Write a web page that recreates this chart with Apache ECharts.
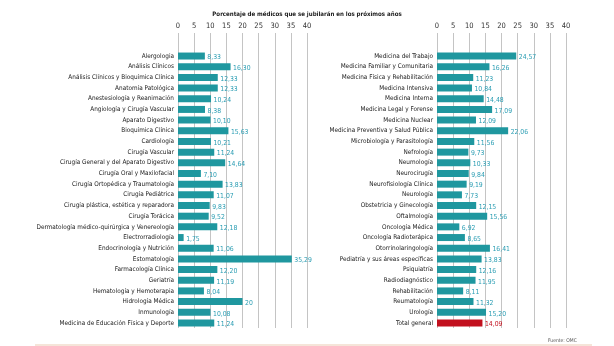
<!DOCTYPE html>
<html>
<head>
<meta charset="utf-8">
<script src="https://cdn.jsdelivr.net/npm/echarts@6/dist/echarts.min.js"></script>
<style>
html,body{margin:0;padding:0;background:#fff;}
#c{width:614px;height:346px;}
</style>
</head>
<body>
<div id="c"></div>
<script>
const titleText = 'Porcentaje de médicos que se jubilarán en los próximos años';
const sourceText = 'Fuente: OMC';
const leftCategories = [
  'Alergologia','Análisis Clínicos','Análisis Clínicos y Bioquímica Clínica','Anatomía Patológica',
  'Anestesiología y Reanimación','Angiología y Cirugía Vascular','Aparato Digestivo','Bioquímica Clínica',
  'Cardiología','Cirugía Vascular','Cirugía General y del Aparato Digestivo','Cirugía Oral y Maxilofacial',
  'Cirugía Ortopédica y Traumatología','Cirugía Pediátrica','Cirugía plástica, estética y reparadora',
  'Cirugía Torácica','Dermatología médico-quirúrgica y Venereología','Electrorradiología',
  'Endocrinología y Nutrición','Estomatología','Farmacología Clínica','Geriatría',
  'Hematología y Hemoterapia','Hidrología Médica','Inmunología','Medicina de Educación Física y Deporte'
];
const leftValues = [8.33,16.30,12.33,12.33,10.24,8.38,10.10,15.63,10.21,11.24,14.64,7.10,13.83,11.07,9.83,9.52,12.18,1.75,11.06,35.29,12.20,11.19,8.04,20,10.08,11.24];
const rightCategories = [
  'Medicina del Trabajo','Medicina Familiar y Comunitaria','Medicina Física y Rehabilitación',
  'Medicina Intensiva','Medicina Interna','Medicina Legal y Forense','Medicina Nuclear',
  'Medicina Preventiva y Salud Pública','Microbiología y Parasitología','Nefrología','Neumología',
  'Neurocirugía','Neurofisiología Clínica','Neurología','Obstetricia y Ginecología','Oftalmología',
  'Oncología Médica','Oncología Radioterápica','Otorrinolaringología','Pediatría y sus áreas específicas',
  'Psiquiatría','Radiodiagnóstico','Rehabilitación','Reumatología','Urología','Total general'
];
const rightValues = [24.57,16.26,11.23,10.84,14.48,17.09,12.09,22.06,11.56,9.73,10.33,9.84,9.19,7.73,12.15,15.56,6.92,8.65,16.41,13.83,12.16,11.95,8.11,11.32,15.20,14.09];
const highlightCategory = 'Total general';

const FONT = "'DejaVu Sans Condensed','Liberation Sans Narrow',sans-serif";
const TEAL = '#1f979f';
const TEAL_TXT = '#2a9db3';
const RED = '#c2101e';
const fmt = v => Number.isInteger(v) ? String(v) : v.toFixed(2).replace('.', ',');

const panels = [{left:178, cats:leftCategories, vals:leftValues},{left:437, cats:rightCategories, vals:rightValues}];
const grids=[], xAxes=[], yAxes=[], series=[];
panels.forEach((p,i)=>{
  const gi = grids.length;
  grids.push({left:p.left, width:129, top:33, height:295});
  grids.push({left:p.left, width:129, top:50.7, height:277.6});
  xAxes.push({gridIndex:gi, type:'value', position:'top', min:0, max:40, interval:5,
    axisLine:{show:false}, axisTick:{show:false},
    axisLabel:{fontSize:7.5, color:'#333', margin:3, fontFamily:FONT},
    splitLine:{show:true, lineStyle:{color:'#c4c4c4', width:1}}});
  xAxes.push({gridIndex:gi+1, type:'value', min:0, max:40, show:false, splitLine:{show:false}});
  yAxes.push({gridIndex:gi, type:'category', show:false, data:['']});
  yAxes.push({gridIndex:gi+1, type:'category', inverse:true, data:p.cats,
    axisLine:{show:false}, axisTick:{show:false},
    axisLabel:{fontSize:6.4, color:'#222', margin:4, fontFamily:FONT, interval:0}});
  series.push({type:'bar', xAxisIndex:xAxes.length-1, yAxisIndex:yAxes.length-1, barWidth:7,
    data:p.vals.map((v,k)=>{
      const hi = p.cats[k]===highlightCategory;
      return {value:v, itemStyle:{color:hi?RED:TEAL}, label:{color:hi?RED:TEAL_TXT}};
    }),
    label:{show:true, position:'right', distance:2.5, offset:[0,1.5], fontSize:6.8, fontFamily:FONT,
      formatter:d=>fmt(d.value)},
    silent:true, animation:false});
});

const chart = echarts.init(document.getElementById('c'), null, {renderer:'canvas'});
chart.setOption({
  backgroundColor:'#fff',
  animation:false,
  title:{text:titleText, left:'center', top:6,
    textStyle:{fontSize:6.1, fontWeight:'bold', color:'#1a1a1a', fontFamily:FONT}},
  grid:grids, xAxis:xAxes, yAxis:yAxes, series:series,
  graphic:[
    {type:'text', left:548, top:338, style:{text:sourceText, fontSize:5, fill:'#555', fontFamily:FONT}},
    {type:'line', shape:{x1:35, y1:345, x2:592, y2:345}, style:{stroke:'#f2dccd', lineWidth:1.5}}
  ]
});
</script>
</body>
</html>
